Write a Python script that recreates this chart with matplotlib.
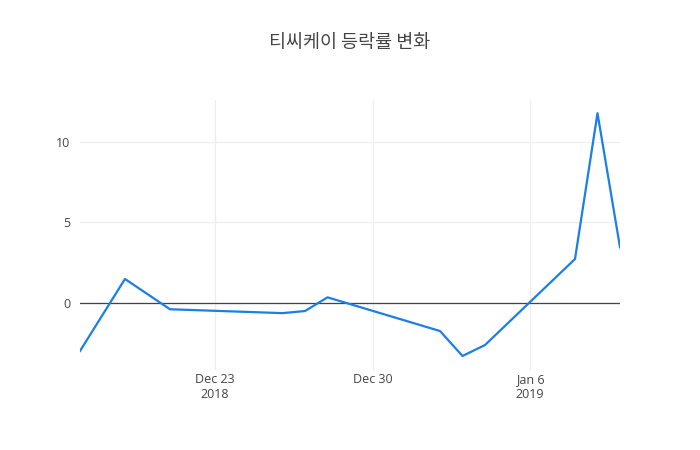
import matplotlib
matplotlib.use("Agg")
from matplotlib import pyplot as plt
import pandas as pd

# data
dates = pd.to_datetime([
    "2018-12-17", "2018-12-19", "2018-12-21", "2018-12-26", "2018-12-27",
    "2018-12-28", "2019-01-02", "2019-01-03", "2019-01-04", "2019-01-08",
    "2019-01-09", "2019-01-10",
])
changes = [-2.98, 1.49, -0.39, -0.63, -0.5, 0.35, -1.74, -3.29, -2.61, 2.73, 11.78, 3.46]
title = "티씨케이 등락률 변화"
xtick_dates = pd.to_datetime(["2018-12-23", "2018-12-30", "2019-01-06"])
xtick_labels = ["Dec 23\n2018", "Dec 30", "Jan 6\n2019"]
ytick_vals = [0, 5, 10]

plt.rcParams["font.family"] = ["Open Sans", "Noto Sans CJK KR", "DejaVu Sans"]

fig = plt.figure(figsize=(7, 4.5), dpi=100)
ax = fig.add_axes([80 / 700, 80 / 450, 540 / 700, 270 / 450])

ax.plot(dates, changes, color="#1a7fe6", linewidth=1.6, zorder=3)
ax.axhline(0, color="#444444", linewidth=0.9, zorder=2)

ax.set_xlim(dates[0], dates[-1])
ax.set_ylim(-4.16, 12.6)
ax.set_xticks(xtick_dates)
ax.set_xticklabels(xtick_labels, linespacing=1.25)
ax.set_yticks(ytick_vals)
ax.grid(True, color="#eeeeee", linewidth=0.9, zorder=0)
ax.tick_params(axis="y", length=0, labelsize=9, labelcolor="#444444", pad=7)
ax.tick_params(axis="x", length=0, labelsize=9, labelcolor="#444444", pad=2)
for s in ax.spines.values():
    s.set_visible(False)

fig.text(0.5, 1 - 43 / 450, title, ha="center", va="center", fontsize=13.3,
         color="#444444", fontweight="medium",
         family=["Noto Sans CJK KR", "DejaVu Sans"])

fig.savefig("out.png", dpi=100)
